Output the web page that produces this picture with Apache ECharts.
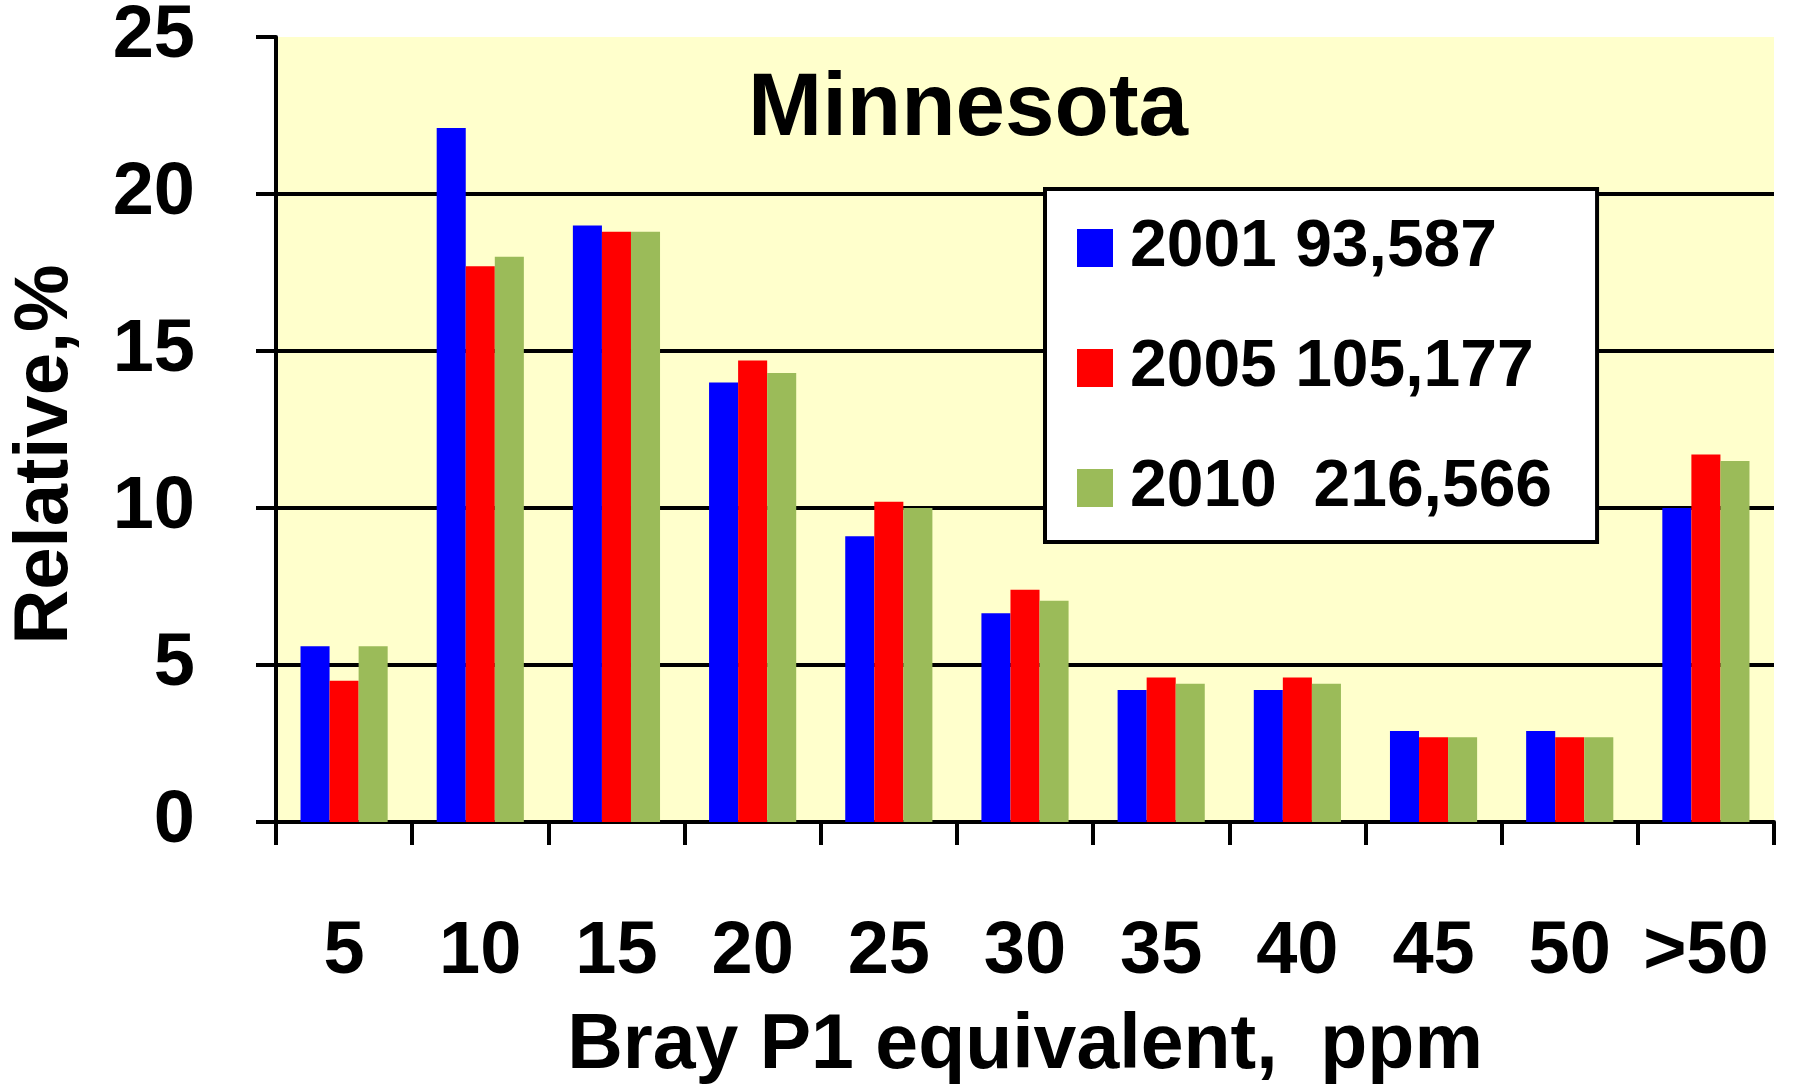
<!DOCTYPE html>
<html>
<head>
<meta charset="utf-8">
<title>Minnesota</title>
<script src="https://cdn.jsdelivr.net/npm/echarts@6/dist/echarts.min.js"></script>
<style>
  html, body { margin: 0; padding: 0; background: #fff; }
  #chart { width: 1797px; height: 1090px; }
</style>
</head>
<body>
<div id="chart"></div>
<script>
const categories = ['5', '10', '15', '20', '25', '30', '35', '40', '45', '50', '>50'];
const yearNames = ['2001 93,587', '2005 105,177', '2010  216,566'];
const values2001 = [5.6, 22.1, 19.0, 14.0, 9.1, 6.65, 4.2, 4.2, 2.9, 2.9, 10.0];
const values2005 = [4.5, 17.7, 18.8, 14.7, 10.2, 7.4, 4.6, 4.6, 2.7, 2.7, 11.7];
const values2010 = [5.6, 18.0, 18.8, 14.3, 10.0, 7.05, 4.4, 4.4, 2.7, 2.7, 11.5];
const yTicks = [0, 5, 10, 15, 20, 25];

const colors = ['#0000ff', '#ff0000', '#9bbb59'];
const font = '"Liberation Sans", Arial, sans-serif';

const chart = echarts.init(document.getElementById('chart'));

function barSeries(name, data, color) {
  return {
    name: name,
    type: 'bar',
    data: data,
    barGap: '0%',
    barCategoryGap: '36%',
    itemStyle: { color: color },
    emphasis: { disabled: true },
  };
}

chart.setOption({
  animation: false,
  backgroundColor: '#ffffff',
  color: colors,
  textStyle: { fontFamily: font, fontWeight: 'bold', color: '#000' },
  title: {
    text: 'Minnesota',
    left: 748,
    top: 66,
    padding: 0,
    textStyle: { fontFamily: font, fontSize: 89, fontWeight: 'bold', color: '#000' },
  },
  legend: {
    orient: 'vertical',
    left: 1045,
    top: 189,
    backgroundColor: '#ffffff',
    borderColor: '#000000',
    borderWidth: 4,
    borderRadius: 0,
    padding: [26, 45, 21, 32],
    itemWidth: 36,
    itemHeight: 38,
    itemGap: 54,
    icon: 'rect',
    selectedMode: false,
    textStyle: {
      fontFamily: font,
      fontSize: 66,
      fontWeight: 'bold',
      color: '#000',
      width: 420,
      lineHeight: 66,
      padding: [0, 0, 0, 12],
    },
    data: yearNames,
  },
  grid: {
    left: 273,
    right: 23,
    top: 33,
    bottom: 268,
    show: true,
    backgroundColor: '#ffffcc',
    borderWidth: 0,
  },
  xAxis: {
    type: 'category',
    data: categories,
    name: 'Bray P1 equivalent,  ppm',
    nameLocation: 'middle',
    nameGap: 186,
    nameTextStyle: { fontFamily: font, fontSize: 77, fontWeight: 'bold', color: '#000' },
    axisLine: { show: true, lineStyle: { color: '#000', width: 4 } },
    axisTick: { show: true, length: 23, lineStyle: { color: '#000', width: 4 } },
    axisLabel: {
      margin: 94,
      fontFamily: font,
      fontSize: 74,
      fontWeight: 'bold',
      color: '#000',
      interval: 0,
    },
    splitLine: { show: false },
  },
  yAxis: {
    type: 'value',
    min: yTicks[0],
    max: yTicks[yTicks.length - 1],
    interval: 5,
    name: 'Relative,%',
    nameLocation: 'middle',
    nameGap: 192,
    nameRotate: 90,
    nameTextStyle: {
      fontFamily: font,
      fontSize: 76,
      fontWeight: 'bold',
      color: '#000',
      padding: [0, 50, 0, 0],
    },
    axisLine: { show: true, lineStyle: { color: '#000', width: 4 } },
    axisTick: { show: true, length: 20, lineStyle: { color: '#000', width: 4 } },
    axisLabel: {
      margin: 81,
      fontFamily: font,
      fontSize: 74,
      fontWeight: 'bold',
      color: '#000',
    },
    splitLine: {
      show: true,
      showMinLine: false,
      showMaxLine: false,
      lineStyle: { color: '#000', width: 4 },
    },
  },
  series: [
    barSeries(yearNames[0], values2001, colors[0]),
    barSeries(yearNames[1], values2005, colors[1]),
    barSeries(yearNames[2], values2010, colors[2]),
  ],
});
</script>
</body>
</html>
